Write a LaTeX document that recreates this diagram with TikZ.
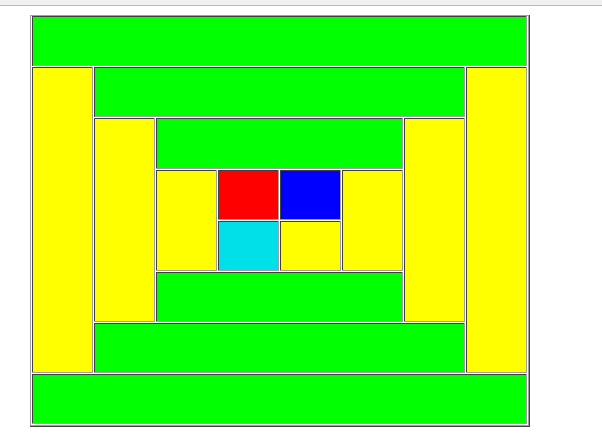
\documentclass[tikz,border=0pt]{standalone}
\usepackage{tikz}
\definecolor{cGreen} {RGB}{0,  255,   0}
\definecolor{cYellow}{RGB}{255,255,   0}
\definecolor{cRed}   {RGB}{255,  0,   0}
\definecolor{cBlue}  {RGB}{0,    0, 255}
\definecolor{cCyan}  {RGB}{0,  224, 232}
\definecolor{cLight} {RGB}{160,160, 160}
\definecolor{cDark}  {RGB}{64,  64,  64}
\definecolor{cBand}  {RGB}{240,240, 242}
\definecolor{cRule}  {RGB}{185,185, 185}
\tikzset{
  C/.style    = {draw=cLight, line width=1pt, anchor=north west,
                 inner sep=0pt, outer sep=0pt},
  grn/.style  = {C, fill=cGreen},
  yel/.style  = {C, fill=cYellow},
  sq/.style   = {C, minimum width=60pt, minimum height=49pt},
  tall/.style = {yel, minimum width=60pt},
}

\begin{document}
\begin{tikzpicture}[x=1pt, y=-1pt]
\useasboundingbox (0,0) rectangle (602,441);

%% Layout:
%% x: columns start at 32 + 62*i, cells 60 wide
%% y: rows start at 17 + 51*j, cells 49 high

%% ─── top band ────────────────────────────────────────────────────
\fill[cBand] (0,0) rectangle (602,5);
\draw[cRule, line width=1.2pt] (0,5.6)--(602,5.6);

%% ─── table frame ─────────────────────────────────────────────────
\node[draw=cLight, line width=1pt, anchor=north west, inner sep=0pt,
      minimum width=498pt, minimum height=410pt] (tbl) at (30,15) {};
\draw[cDark, line width=1pt] (tbl.south west) -| (tbl.north east);

%% ─── ring 1 ──────────────────────────────────────────────────────
\node[grn, minimum width=494pt, minimum height=49pt] (gT1) at (32,17)  {};
\node[tall, minimum height=304pt]                    (yL1) at (32,68)  {};
\node[tall, minimum height=304pt]                    (yR1) at (466,68) {};
\node[grn, minimum width=494pt, minimum height=49pt] (gB1) at (32,374) {};

%% ─── ring 2 ──────────────────────────────────────────────────────
\node[grn, minimum width=370pt, minimum height=49pt] (gT2) at (94,68)  {};
\node[tall, minimum height=202pt]                    (yL2) at (94,119) {};
\node[tall, minimum height=202pt]                    (yR2) at (404,119){};
\node[grn, minimum width=370pt, minimum height=49pt] (gB2) at (94,323) {};

%% ─── ring 3 ──────────────────────────────────────────────────────
\node[grn, minimum width=246pt, minimum height=49pt] (gT3) at (156,119){};
\node[tall, minimum height=100pt]                    (yL3) at (156,170){};
\node[tall, minimum height=100pt]                    (yR3) at (342,170){};
\node[grn, minimum width=246pt, minimum height=49pt] (gB3) at (156,272){};

%% ─── centre ──────────────────────────────────────────────────────
\node[sq, fill=cRed]    (red)  at (218,170) {};
\node[sq, fill=cBlue]   (blue) at (280,170) {};
\node[sq, fill=cCyan]   (cyan) at (218,221) {};
\node[sq, fill=cYellow] (yC)   at (280,221) {};

%% inset edges (top + left darker)
\foreach \c in {gT1,yL1,yR1,gB1,gT2,yL2,yR2,gB2,gT3,yL3,yR3,gB3,red,blue,cyan,yC}
  \draw[cDark, line width=1pt] (\c.south west) |- (\c.north east);

\end{tikzpicture}
\end{document}
